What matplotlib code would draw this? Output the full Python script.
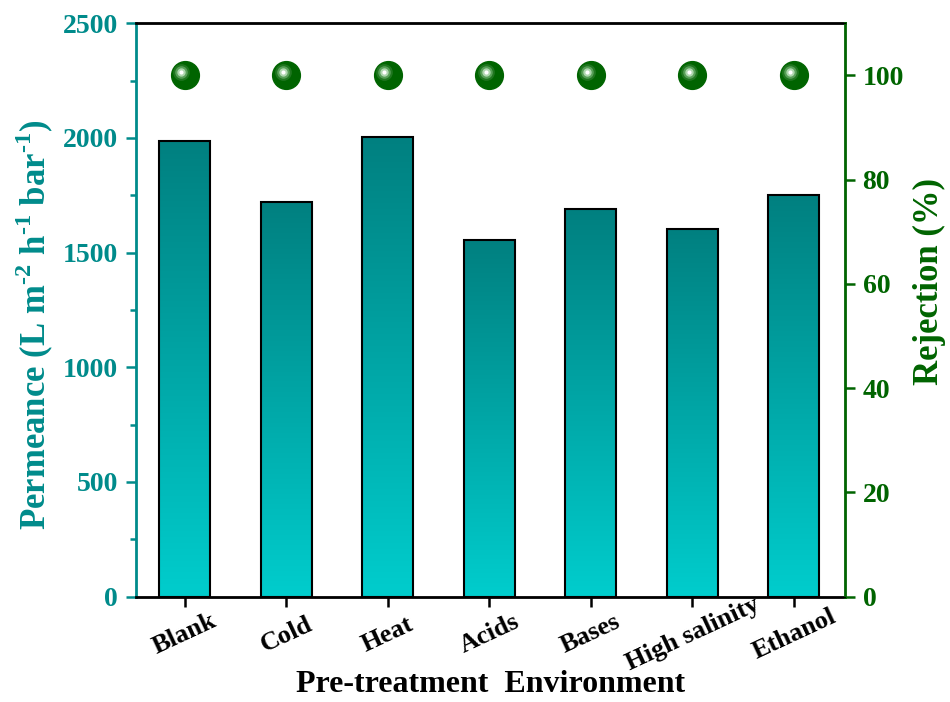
import numpy as np
import matplotlib.pyplot as plt
from matplotlib.colors import LinearSegmentedColormap
from matplotlib.ticker import MultipleLocator

plt.rcParams['font.family'] = ['Liberation Serif', 'DejaVu Serif']
plt.rcParams['font.weight'] = 'bold'
plt.rcParams['mathtext.fontset'] = 'custom'
plt.rcParams['mathtext.rm'] = 'Liberation Serif:bold'
plt.rcParams['mathtext.bf'] = 'Liberation Serif:bold'

# Données
environnements = ['Blank', 'Cold', 'Heat', 'Acids', 'Bases', 'High salinity', 'Ethanol']
permeance = [1986, 1720, 2003, 1555, 1690, 1603, 1751]
rejet = [100, 100, 100, 100, 100, 100, 100]

teal = '#008B8B'
vert = '#006400'

fig, ax = plt.subplots(figsize=(9.5, 7.02), dpi=100)
fig.subplots_adjust(left=0.143, right=0.889, top=0.967, bottom=0.15)

x = np.arange(len(environnements))
bars = ax.bar(x, permeance, width=0.5, color='none', edgecolor='black', linewidth=1.5, zorder=3)

# Dégradé vertical dans chaque barre
cmap = LinearSegmentedColormap.from_list('grad', ['#00CDCD', '#008080'])
grad = np.linspace(0, 1, 256).reshape(-1, 1)
for b in bars:
    x0, w, h = b.get_x(), b.get_width(), b.get_height()
    im = ax.imshow(grad, cmap=cmap, origin='lower', aspect='auto',
                   extent=[x0, x0 + w, 0, h], zorder=2)
    im.set_clip_path(b)

ax.set_xlim(-0.48, 6.5)
ax.set_ylim(0, 2500)
ax.yaxis.set_major_locator(MultipleLocator(500))
ax.yaxis.set_minor_locator(MultipleLocator(250))
ax.set_xticks(x)
ax.set_xticklabels(environnements, rotation=25, fontsize=19, ha='center', va='center',
                   rotation_mode='anchor')
ax.tick_params(axis='x', direction='out', length=7, width=1.8, pad=20)
ax.tick_params(axis='y', which='major', direction='out', length=7, width=1.8,
               colors=teal, labelsize=20, pad=6)
ax.tick_params(axis='y', which='minor', direction='out', length=4, width=1.8, colors=teal)
ax.set_xlabel('Pre-treatment  Environment', fontsize=23, fontweight='bold')
ax.xaxis.set_label_coords(0.5, -0.128)
ax.set_ylabel(r'Permeance (L m$^{\text{-2}}$ h$^{\text{-1}}$ bar$^{\text{-1}}$)', fontsize=25,
              fontweight='bold', color=teal)
ax.yaxis.set_label_coords(-0.113, 0.474)

for s in ['top', 'bottom']:
    ax.spines[s].set_linewidth(2)
ax.spines['left'].set_color(teal)
ax.spines['left'].set_linewidth(2)

# Axe de droite : rejet
ax2 = ax.twinx()
ax2.set_ylim(0, 110)
ax2.yaxis.set_major_locator(MultipleLocator(20))
ax2.tick_params(axis='y', direction='out', length=7, width=1.8, colors=vert, labelsize=20, pad=6)
ax2.spines['right'].set_color(vert)
ax2.spines['right'].set_linewidth(2)
ax2.spines['left'].set_visible(False)
ax2.set_ylabel('Rejection (%)', fontsize=25, fontweight='bold', color=vert)
ax2.yaxis.set_label_coords(1.096, 0.549)

# Sphères vertes avec reflet
ax2.plot(x, rejet, 'o', ms=20, color=vert, mec=vert, zorder=5)
for taille, c, a in [(12, '#2f7f2f', 0.7), (9, '#66aa66', 0.8), (6, '#b4dab4', 0.95), (3, 'white', 1.0)]:
    ax2.plot(x - 0.035, np.array(rejet) + 0.7, 'o', ms=taille, color=c, mec='none', alpha=a, zorder=6)

fig.savefig('out.png', dpi=100)
